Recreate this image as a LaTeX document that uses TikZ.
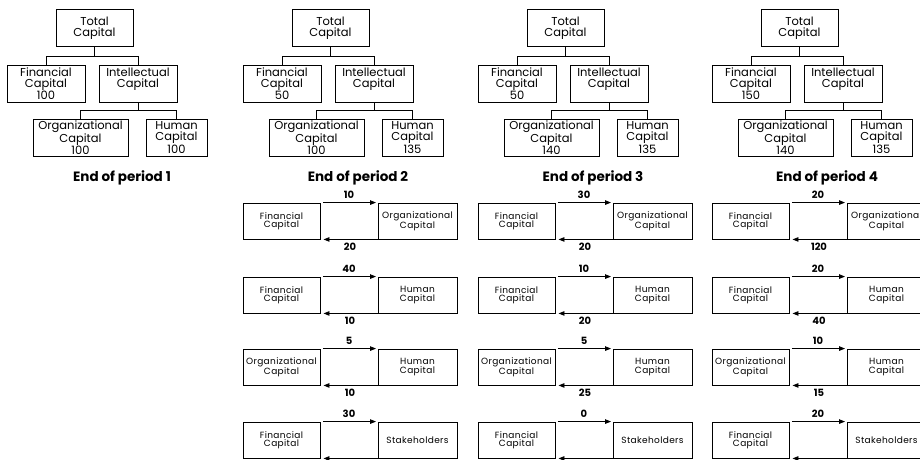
\documentclass[tikz,border=0pt]{standalone}
\usepackage{fontspec}
\setmainfont{Poppins}
\newfontfamily\flowfont[LetterSpace=4]{Poppins}
\usetikzlibrary{arrows.meta,calc}

\tikzset{
  treebox/.style={draw, line width=0.9pt, inner sep=0pt, align=center,
    font=\fontsize{11.5}{10.8}\selectfont, minimum height=37pt},
  flowbox/.style={draw, line width=0.9pt, inner sep=0pt, align=center,
    font=\flowfont\fontsize{9}{8.5}\selectfont, minimum width=77pt, minimum height=36pt},
  link/.style={line width=0.9pt},
  flowarrow/.style={line width=0.9pt, -{Triangle[length=6pt,width=4.5pt]}},
  numlabel/.style={font=\bfseries\fontsize{10}{10}\selectfont, inner sep=0pt},
  periodlabel/.style={font=\bfseries\fontsize{13.5}{13.5}\selectfont, inner sep=0pt},
}

% #1 origin x, #2 id, #3 financial, #4 organizational, #5 human
\newcommand\captree[5]{%
  \node[treebox, minimum width=77pt] (tot#2) at ({#1+87.5},28) {Total\\Capital};
  \node[treebox, minimum width=78pt] (fin#2) at ({#1+39},83.5) {Financial\\Capital\\#3};
  \node[treebox, minimum width=78pt] (int#2) at ({#1+131},83.5) {Intellectual\\Capital\\~};
  \node[treebox, minimum width=95pt] (org#2) at ({#1+73.5},137.5) {Organizational\\Capital\\#4};
  \node[treebox, minimum width=61pt] (hum#2) at ({#1+169.5},137.5) {Human\\Capital\\#5};
  \coordinate (ja#2) at ([yshift=-9.5pt]tot#2.south);
  \coordinate (jb#2) at ([yshift=-8pt]int#2.south);
  \draw[link] (tot#2.south) -- (ja#2);
  \draw[link] (fin#2.north) |- (ja#2) -| (int#2.north);
  \draw[link] (int#2.south) -- (jb#2);
  \draw[link] (org#2.north) |- (jb#2) -| (hum#2.north);
  \node[periodlabel] (per#2) at ({#1+115},177.5) {End of period #2};
}

% #1 origin x, #2 top y, #3 id, #4 left text, #5 right text, #6 top number, #7 bottom number
\newcommand\flowrow[7]{%
  \node[flowbox] (L#3) at ({#1+38.5},{#2+18}) {#4};
  \node[flowbox, minimum width=79pt] (R#3) at ({#1+174.5},{#2+18}) {#5};
  \draw[flowarrow] ([xshift=2.5pt]L#3.north east) -- ([xshift=-1.5pt]R#3.north west);
  \draw[flowarrow] (R#3.south west) -- ([xshift=3pt]L#3.south east);
  \node[numlabel] (tn#3) at ($(L#3.north east)!0.5!(R#3.north west)+(0,-8)$) {#6};
  \if\relax\detokenize{#7}\relax\else
  \node[numlabel] (bn#3) at ($(L#3.south east)!0.5!(R#3.south west)+(1,7.5)$) {#7};
  \fi
}

\begin{document}
\begin{tikzpicture}[x=1pt, y=-1pt]
\useasboundingbox (0,0) rectangle (920,460);

\captree{7}{1}{100}{100}{100}
\captree{243}{2}{50}{100}{135}
\captree{478}{3}{50}{140}{135}
\captree{712}{4}{150}{140}{135}

% period 2
\flowrow{243}{203}{a2}{Financial\\Capital}{Organizational\\Capital}{10}{20}
\flowrow{243}{277}{b2}{Financial\\Capital}{Human\\Capital}{40}{10}
\flowrow{243}{349}{c2}{Organizational\\Capital}{Human\\Capital}{5}{10}
\flowrow{243}{422}{d2}{Financial\\Capital}{Stakeholders}{30}{}
% period 3
\flowrow{478}{203}{a3}{Financial\\Capital}{Organizational\\Capital}{30}{20}
\flowrow{478}{277}{b3}{Financial\\Capital}{Human\\Capital}{10}{20}
\flowrow{478}{349}{c3}{Organizational\\Capital}{Human\\Capital}{5}{25}
\flowrow{478}{422}{d3}{Financial\\Capital}{Stakeholders}{0}{}
% period 4
\flowrow{712}{203}{a4}{Financial\\Capital}{Organizational\\Capital}{20}{120}
\flowrow{712}{277}{b4}{Financial\\Capital}{Human\\Capital}{20}{40}
\flowrow{712}{349}{c4}{Organizational\\Capital}{Human\\Capital}{10}{15}
\flowrow{712}{422}{d4}{Financial\\Capital}{Stakeholders}{20}{}
\end{tikzpicture}
\end{document}
